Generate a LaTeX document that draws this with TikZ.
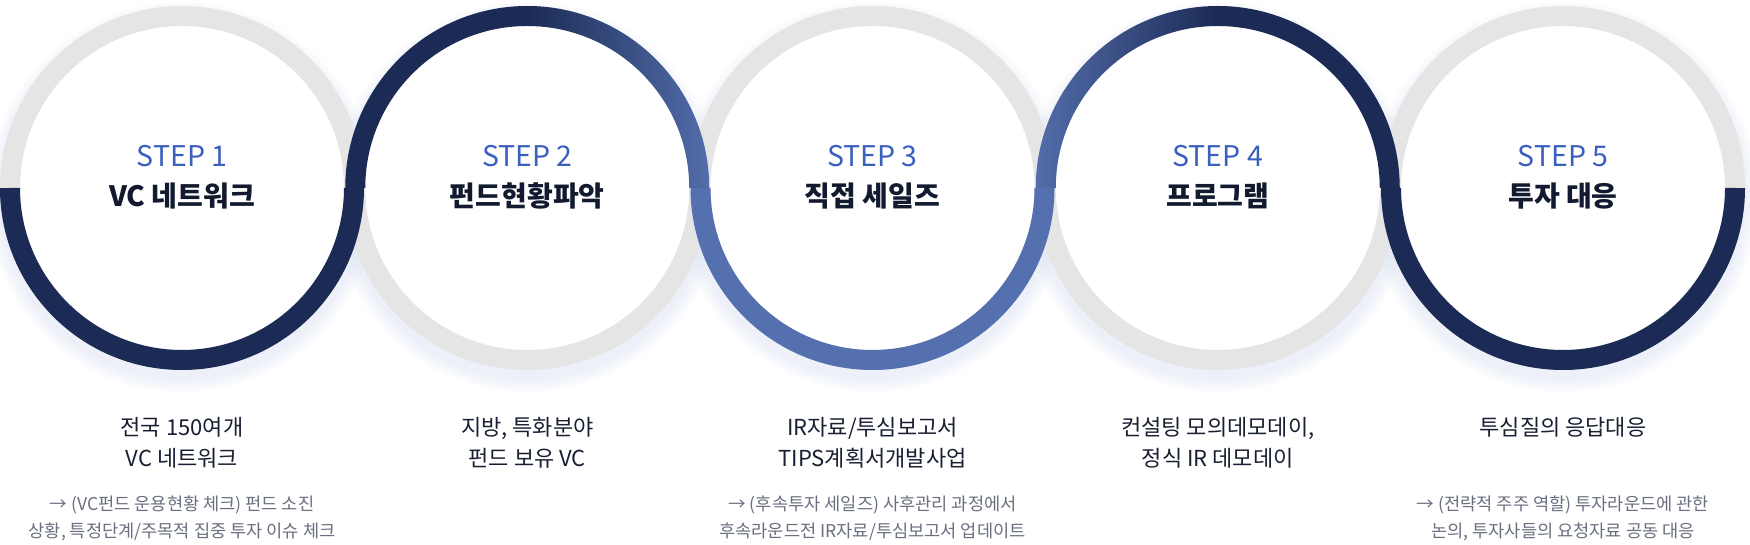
\documentclass[tikz,border=0pt]{standalone}
\usepackage{fontspec}
\setmainfont{Noto Sans CJK KR}
\usetikzlibrary{calc}
\definecolor{navy}{HTML}{1B2B55}
\definecolor{blueb}{HTML}{5570AE}
\definecolor{ringgray}{HTML}{E5E5E5}
\definecolor{stepblue}{HTML}{3B5FBE}
\definecolor{titlec}{HTML}{111A2E}
\definecolor{descc}{HTML}{1A2033}
\definecolor{notec}{HTML}{6A7080}
\definecolor{shadowc}{HTML}{DCE3F5}
\begin{document}
\begin{tikzpicture}[x=1pt,y=1pt,
  ring/.style={circle, draw=ringgray, line width=20pt, minimum size=344pt, inner sep=0pt, fill=white},
  steplabel/.style={anchor=base, text=stepblue, font=\fontsize{28.5}{30}\selectfont},
  titlelabel/.style={anchor=base, text=titlec, font=\fontsize{28}{30}\selectfont\bfseries},
  desc/.style={anchor=base, text=descc, font=\fontsize{22}{26}\selectfont},
  note/.style={anchor=base, text=notec, font=\fontsize{17.6}{20}\selectfont},
  darkarc/.style={line width=20pt, line cap=butt}]
\useasboundingbox (0,0) rectangle (1750,545);
\fill[white] (0,0) rectangle (1750,545);
% soft shadows
\foreach \cx in {182,527.25,872.5,1217.75,1563}{
  \foreach \k in {0,...,6}{
    \fill[shadowc, opacity=0.08] (\cx,348) circle ({183+2*\k});
  }
}
% rings
\node[ring] (c1) at (182,357) {};
\node[ring] (c2) at (527.25,357) {};
\node[ring] (c3) at (872.5,357) {};
\node[ring] (c4) at (1217.75,357) {};
\node[ring] (c5) at (1563,357) {};
% progress path
\draw[darkarc, navy] ($(c1.center)+(180:172)$) arc[start angle=180, end angle=360, radius=172];
\begin{scope}
  \clip ($(c2.center)+(-182,0)$) arc[start angle=180, end angle=0, radius=182] -- ++(-20,0) arc[start angle=0, end angle=180, radius=162] -- cycle;
  \fill[navy] ($(c2.center)+(-190,-1)$) rectangle ($(c2.center)+(0,190)$);
  \shade[left color=navy, right color=blueb] ($(c2.center)+(0,-1)$) rectangle ($(c2.center)+(190,190)$);
\end{scope}
\draw[darkarc, blueb] ($(c3.center)+(180:172)$) arc[start angle=180, end angle=360, radius=172];
\begin{scope}
  \clip ($(c4.center)+(-182,0)$) arc[start angle=180, end angle=0, radius=182] -- ++(-20,0) arc[start angle=0, end angle=180, radius=162] -- cycle;
  \shade[left color=blueb, right color=navy] ($(c4.center)+(-190,-1)$) rectangle ($(c4.center)+(0,190)$);
  \fill[navy] ($(c4.center)+(0,-1)$) rectangle ($(c4.center)+(190,190)$);
\end{scope}
\draw[darkarc, navy] ($(c5.center)+(180:172)$) arc[start angle=180, end angle=360, radius=172];
% labels inside circles
\node[steplabel] (s1) at (182,378) {STEP 1};
\node[titlelabel] (t1) at (182,338) {VC 네트워크};
\node[steplabel] (s2) at (527.25,378) {STEP 2};
\node[titlelabel] (t2) at (527.25,338) {펀드현황파악};
\node[steplabel] (s3) at (872.5,378) {STEP 3};
\node[titlelabel] (t3) at (872.5,338) {직접 세일즈};
\node[steplabel] (s4) at (1217.75,378) {STEP 4};
\node[titlelabel] (t4) at (1217.75,338) {프로그램};
\node[steplabel] (s5) at (1563,378) {STEP 5};
\node[titlelabel] (t5) at (1563,338) {투자 대응};
% descriptions
\node[desc] (d1a) at (182,109) {전국 150여개};
\node[desc] (d1b) at (182,78) {VC 네트워크};
\node[note] (n1a) at (182,34) {→ (VC펀드 운용현황 체크) 펀드 소진};
\node[note] (n1b) at (182,7) {상황, 특정단계/주목적 집중 투자 이슈 체크};
\node[desc] (d2a) at (527.25,109) {지방, 특화분야};
\node[desc] (d2b) at (527.25,78) {펀드 보유 VC};
\node[desc] (d3a) at (872.5,109) {IR자료/투심보고서};
\node[desc] (d3b) at (872.5,78) {TIPS계획서개발사업};
\node[note] (n3a) at (872.5,34) {→ (후속투자 세일즈) 사후관리 과정에서};
\node[note] (n3b) at (872.5,7) {후속라운드전 IR자료/투심보고서 업데이트};
\node[desc] (d4a) at (1217.75,109) {컨설팅 모의데모데이,};
\node[desc] (d4b) at (1217.75,78) {정식 IR 데모데이};
\node[desc] (d5a) at (1563,109) {투심질의 응답대응};
\node[note] (n5a) at (1563,34) {→ (전략적 주주 역할) 투자라운드에 관한};
\node[note] (n5b) at (1563,7) {논의, 투자사들의 요청자료 공동 대응};
\end{tikzpicture}
\end{document}
